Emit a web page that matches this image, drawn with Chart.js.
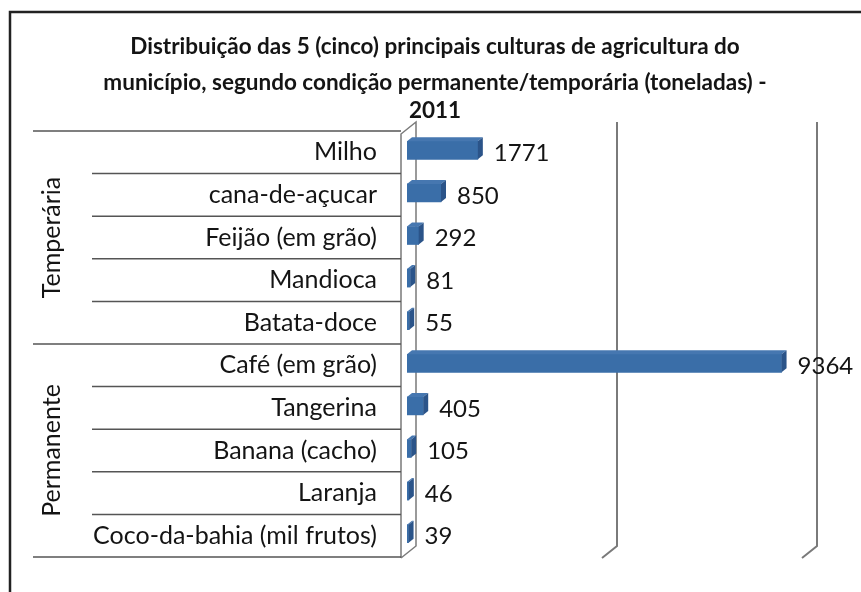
<!DOCTYPE html>
<html>
<head>
<meta charset="utf-8">
<script src="https://cdn.jsdelivr.net/npm/chart.js@4.4.1/dist/chart.umd.min.js"></script>
<style>
  body { margin: 0; background: #fff; }
  #wrap { width: 861px; height: 592px; }
</style>
</head>
<body>
<div id="wrap"><canvas id="chart"></canvas></div>
<script>
// dados da figura (toneladas, 2011)
const categories = ['Milho', 'cana-de-açucar', 'Feijão (em grão)', 'Mandioca', 'Batata-doce',
    'Café (em grão)', 'Tangerina', 'Banana (cacho)', 'Laranja', 'Coco-da-bahia (mil frutos)'];
const values = [1771, 850, 292, 81, 55, 9364, 405, 105, 46, 39];
const groups = ['Temperária', 'Permanente'];
const groupSizes = [5, 5];
const gridTicks = [5000, 10000];

const FONT = 'Lato, "Open Sans", sans-serif';
const INK = '#141414';

const excel3d = {
    id: 'excel3d',
    beforeDraw(chart) {
        const ctx = chart.ctx;
        ctx.save();
        ctx.fillStyle = '#fff';
        ctx.fillRect(0, 0, chart.width, chart.height);
        // moldura
        ctx.strokeStyle = '#222';
        ctx.lineWidth = 2.5;
        ctx.beginPath();
        ctx.moveTo(10, chart.height);
        ctx.lineTo(10, 12);
        ctx.lineTo(chart.width, 12);
        ctx.stroke();
        ctx.restore();
    },
    beforeDatasetsDraw(chart) {
        const ctx = chart.ctx;
        const xs = chart.scales.x, ys = chart.scales.y;
        const a = chart.chartArea;
        const step = (ys.bottom - ys.top) / categories.length;
        ctx.save();
        // linhas de grade (plano de fundo)
        ctx.strokeStyle = '#7a7a7a';
        ctx.lineWidth = 2;
        gridTicks.forEach(v => {
            const gx = xs.getPixelForValue(v) + 10;
            ctx.beginPath();
            ctx.moveTo(gx, a.top - 9);
            ctx.lineTo(gx, a.bottom - 11);
            ctx.lineTo(gx - 15, a.bottom + 1);
            ctx.stroke();
        });
        // parede lateral
        const back = xs.getPixelForValue(0) + 9, front = xs.getPixelForValue(0) - 6;
        ctx.lineWidth = 1.5;
        ctx.beginPath();
        ctx.moveTo(front, a.bottom + 1);
        ctx.lineTo(front, a.top + 3);
        ctx.lineTo(back, a.top - 9);
        ctx.lineTo(back, a.bottom - 11);
        ctx.lineTo(front, a.bottom + 1);
        ctx.stroke();
        // separadores das categorias
        ctx.strokeStyle = '#555';
        ctx.lineWidth = 1.5;
        let edges = [0];
        groupSizes.reduce((s, n) => { edges.push(s + n); return s + n; }, 0);
        for (let k = 0; k <= categories.length; k++) {
            const y = ys.top + step * k;
            const x0 = edges.includes(k) ? 33 : 92;
            ctx.beginPath();
            ctx.moveTo(x0, y);
            ctx.lineTo(front, y);
            ctx.stroke();
        }
        // rótulos dos grupos
        ctx.fillStyle = INK;
        ctx.font = '25px ' + FONT;
        ctx.textAlign = 'center';
        ctx.textBaseline = 'middle';
        groups.forEach((g, i) => {
            const cy = ys.top + step * (edges[i] + edges[i + 1]) / 2;
            ctx.save();
            ctx.translate(52, cy);
            ctx.rotate(-Math.PI / 2);
            ctx.fillText(g, 0, 0);
            ctx.restore();
        });
        ctx.restore();
        // barras um pouco acima do centro da faixa
        ctx.save();
        ctx.translate(0, -2);
    },
    afterDatasetsDraw(chart) {
        const ctx = chart.ctx;
        const meta = chart.getDatasetMeta(0);
        const dx = 5, dy = -4;
        meta.data.forEach(bar => {
            const top = bar.y - bar.height / 2, bottom = bar.y + bar.height / 2;
            ctx.fillStyle = '#4677b0';
            ctx.beginPath();
            ctx.moveTo(bar.base, top);
            ctx.lineTo(bar.x, top);
            ctx.lineTo(bar.x + dx, top + dy);
            ctx.lineTo(bar.base + dx, top + dy);
            ctx.closePath();
            ctx.fill();
            ctx.fillStyle = '#2b5489';
            ctx.beginPath();
            ctx.moveTo(bar.x, top);
            ctx.lineTo(bar.x + dx, top + dy);
            ctx.lineTo(bar.x + dx, bottom + dy);
            ctx.lineTo(bar.x, bottom);
            ctx.closePath();
            ctx.fill();
        });
        ctx.restore();
        // rótulos de dados
        ctx.save();
        ctx.fillStyle = INK;
        ctx.font = '24px ' + FONT;
        ctx.textAlign = 'left';
        ctx.textBaseline = 'middle';
        meta.data.forEach((bar, i) => {
            ctx.fillText(values[i], bar.x + 16, bar.y + 1);
        });
        ctx.restore();
    }
};

const ctx = document.getElementById('chart').getContext('2d');
const chart = new Chart(ctx, {
    type: 'bar',
    data: {
        labels: categories,
        datasets: [{
            data: values,
            backgroundColor: '#3a6ea8',
            borderWidth: 0,
            barThickness: 18
        }]
    },
    options: {
        indexAxis: 'y',
        responsive: true,
        maintainAspectRatio: false,
        animation: false,
        layout: { padding: { left: 63, right: 54, top: 0, bottom: 35 } },
        scales: {
            x: { type: 'linear', min: 0, max: 10000, display: false },
            y: {
                grid: { display: false, drawTicks: false },
                border: { display: false },
                ticks: {
                    autoSkip: false,
                    padding: 30,
                    color: INK,
                    font: { family: FONT, size: 25 }
                },
                afterFit(scale) {
                    scale.width = 344;
                    scale.paddingTop = 0;
                    scale.paddingBottom = 0;
                }
            }
        },
        plugins: {
            legend: { display: false },
            tooltip: { enabled: false },
            title: {
                display: true,
                text: ['Distribuição das 5 (cinco) principais culturas de agricultura do',
                       'município, segundo condição permanente/temporária (toneladas) -'],
                color: INK,
                font: { family: FONT, size: 22.5, weight: 'bold', lineHeight: 36 / 22.5 },
                padding: { top: 29, bottom: 0 }
            },
            subtitle: {
                display: true,
                text: '2011',
                color: INK,
                font: { family: FONT, size: 22.5, weight: 'bold', lineHeight: 20 / 22.5 },
                padding: { top: 0, bottom: 10 }
            }
        }
    },
    plugins: [excel3d]
});
</script>
</body>
</html>
